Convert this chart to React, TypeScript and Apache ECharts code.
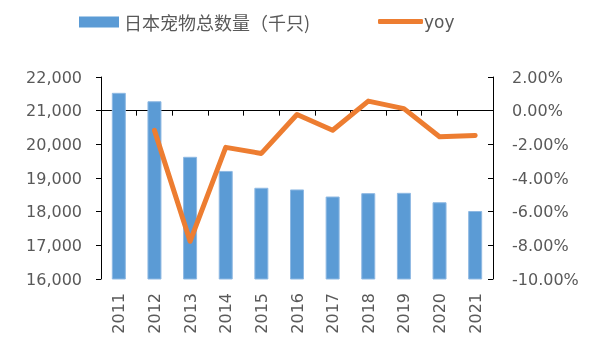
import React, { useEffect, useRef } from "react";
import * as echarts from "echarts";

const years = ["2011", "2012", "2013", "2014", "2015", "2016", "2017", "2018", "2019", "2020", "2021"];
const petTotal = [21530, 21280, 19630, 19210, 18710, 18660, 18450, 18550, 18560, 18280, 18020];
const yoy = [null, -1.17, -7.76, -2.18, -2.54, -0.23, -1.16, 0.57, 0.12, -1.55, -1.47];
const barName = "日本宠物总数量（千只)";
const lineName = "yoy";

const textColor = "#595959";
const font = "'DejaVu Sans', 'Noto Sans CJK SC', sans-serif";

export default function App() {
  const ref = useRef<HTMLDivElement>(null);
  useEffect(() => {
    if (!ref.current) return;
    const chart = echarts.init(ref.current, null, { renderer: "svg" });
    chart.setOption({
      animation: false,
      textStyle: { fontFamily: font },
      legend: [
        {
          data: [{ name: barName, icon: "rect" }],
          left: 74,
          top: 8,
          itemWidth: 40,
          itemHeight: 11,
          itemGap: 6,
          itemStyle: { borderWidth: 0 },
          textStyle: { color: textColor, fontSize: 18, fontFamily: "'Noto Sans CJK SC', sans-serif" },
        },
        {
          data: [{ name: lineName, icon: "roundRect" }],
          left: 373,
          top: 8,
          itemWidth: 45,
          itemHeight: 5,
          textStyle: { color: textColor, fontSize: 17, fontFamily: font, padding: [0, 0, 0, -4] },
        },
      ],
      grid: { left: 101, right: 107, top: 77, bottom: 73 },
      xAxis: {
        type: "category",
        data: years,
        axisLine: { lineStyle: { color: "#000", width: 1 } },
        axisTick: { show: true, length: 5, lineStyle: { color: "#000" } },
        axisLabel: { rotate: 90, color: textColor, fontSize: 16, margin: 14, fontFamily: font },
      },
      yAxis: [
        {
          type: "value",
          min: 16000,
          max: 22000,
          interval: 1000,
          splitLine: { show: false },
          axisLine: { show: true, lineStyle: { color: "#000" } },
          axisTick: { show: true, length: 5, lineStyle: { color: "#000" } },
          axisLabel: {
            color: textColor,
            fontSize: 16,
            margin: 19,
            fontFamily: font,
            formatter: (v: number) => v.toLocaleString("en-US"),
          },
        },
        {
          type: "value",
          min: -10,
          max: 2,
          interval: 2,
          position: "right",
          splitLine: { show: false },
          axisLine: { show: true, lineStyle: { color: "#000" } },
          axisTick: { show: true, inside: true, length: 5, lineStyle: { color: "#000" } },
          axisLabel: {
            color: textColor,
            fontSize: 16,
            margin: 19,
            fontFamily: font,
            formatter: (v: number) => v.toFixed(2) + "%",
          },
        },
      ],
      series: [
        {
          name: barName,
          type: "bar",
          data: petTotal,
          barWidth: 14,
          yAxisIndex: 0,
          itemStyle: { color: "#5B9BD5", borderColor: "#8FB9E3", borderWidth: 1 },
        },
        {
          name: lineName,
          type: "line",
          data: yoy,
          yAxisIndex: 1,
          symbol: "none",
          lineStyle: { color: "#ED7D31", width: 5, cap: "round", join: "round" },
          itemStyle: { color: "#ED7D31" },
        },
      ],
    });
    return () => chart.dispose();
  }, []);
  return <div ref={ref} style={{ position: "fixed", left: 0, top: 0, width: 600, height: 352 }} />;
}
